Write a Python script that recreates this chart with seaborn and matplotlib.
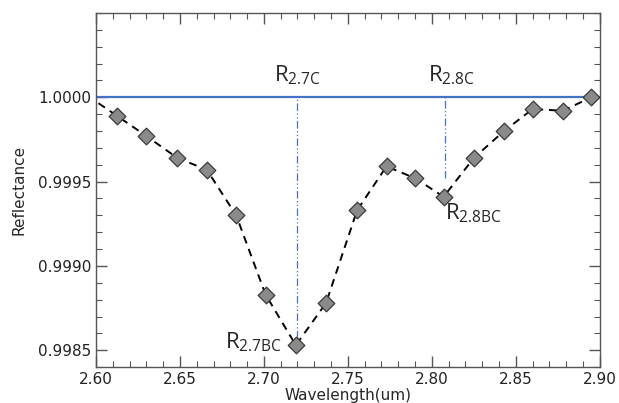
import numpy as np
import pandas as pd
import matplotlib
matplotlib.use("Agg")
import matplotlib.pyplot as plt
import seaborn as sns
from matplotlib.ticker import MultipleLocator, FixedLocator, FormatStrFormatter

# ------------------------------------
# Data
# ------------------------------------

wavelength = [2.6125, 2.630, 2.6485, 2.666, 2.6835, 2.701, 2.719, 2.737,
              2.7555, 2.773, 2.790, 2.807, 2.825, 2.843, 2.860, 2.878, 2.895]
reflectance = [0.99989, 0.99977, 0.99964, 0.99957, 0.99930, 0.99883, 0.99853, 0.99878,
               0.99933, 0.99959, 0.99952, 0.99941, 0.99964, 0.99980, 0.99993, 0.99992, 1.00000]

# sample just left of the plotted window (line only)
lead_wavelength = [2.5948]
lead_reflectance = [1.00001]

continuum = 1.0
band_centers = [2.720, 2.808]
band_depths = [0.99853, 0.99941]
vline_bottoms = [0.99857, 0.99952]

labels_c = ["2.7C", "2.8C"]
labels_bc = ["2.7BC", "2.8BC"]

y_ticks = [0.9985, 0.9990, 0.9995, 1.0000]

df = pd.DataFrame({"Wavelength": wavelength, "Reflectance": reflectance})
line_df = pd.DataFrame({
    "Wavelength": lead_wavelength + wavelength,
    "Reflectance": lead_reflectance + reflectance,
})

# ------------------------------------
# Plot
# ------------------------------------

sns.set_style("ticks")
plt.rcParams["font.family"] = ["DejaVu Sans"]

fig = plt.figure(figsize=(6.19, 4.03), dpi=100)
ax = fig.add_axes([0.155, 0.089, 0.814, 0.879])

blue = "#4472C4"

ax.axhline(continuum, color=blue, linewidth=1.6, zorder=1)

for xc, yb in zip(band_centers, vline_bottoms):
    ax.vlines(xc, yb, continuum, colors=blue, linestyles=(0, (6, 2, 1, 2, 1, 2)),
              linewidth=0.9, zorder=1)

sns.lineplot(
    data=line_df, x="Wavelength", y="Reflectance",
    color="black", linestyle=(0, (4, 3)), linewidth=1.4,
    sort=False, ax=ax, zorder=2
)

sns.scatterplot(
    data=df, x="Wavelength", y="Reflectance",
    marker="D", s=72, color="#8a8a8a", edgecolor="#3a3a3a",
    linewidth=0.9, ax=ax, zorder=3, clip_on=False
)

ax.set_xlim(2.60, 2.90)
ax.set_ylim(0.99840, 1.00050)

ax.xaxis.set_major_locator(MultipleLocator(0.05))
ax.xaxis.set_minor_locator(MultipleLocator(0.01))
ax.yaxis.set_major_locator(FixedLocator(y_ticks))
ax.yaxis.set_minor_locator(MultipleLocator(0.0001))
ax.yaxis.set_major_formatter(FormatStrFormatter("%.4f"))
ax.xaxis.set_major_formatter(FormatStrFormatter("%.2f"))

ax.tick_params(which="both", direction="in", top=True, right=True,
               color="#555555", labelsize=11, labelcolor="#222222")
ax.tick_params(which="major", length=8, width=1.0)
ax.tick_params(which="minor", length=4, width=0.8)

for sp in ax.spines.values():
    sp.set_color("#555555")
    sp.set_linewidth(1.0)

ax.set_xlabel("Wavelength(um)", fontsize=11, labelpad=1)
ax.set_ylabel("Reflectance", fontsize=11, labelpad=8)

# ------------------------------------
# Annotations
# ------------------------------------

afont = ["Open Sans", "DejaVu Sans"]

ax.text(band_centers[0], 1.00006, r"$\mathregular{R_{%s}}$" % labels_c[0],
        fontsize=16, family=afont, ha="center", va="bottom")
ax.text(band_centers[1] + 0.004, 1.00006, r"$\mathregular{R_{%s}}$" % labels_c[1],
        fontsize=16, family=afont, ha="center", va="bottom")
ax.text(band_centers[0] - 0.009, band_depths[0] + 0.00002, r"$\mathregular{R_{%s}}$" % labels_bc[0],
        fontsize=16, family=afont, ha="right", va="center")
ax.text(band_centers[1] + 0.000, band_depths[1] - 0.00010, r"$\mathregular{R_{%s}}$" % labels_bc[1],
        fontsize=16, family=afont, ha="left", va="center")

fig.savefig("out.png", dpi=100)
plt.close(fig)
